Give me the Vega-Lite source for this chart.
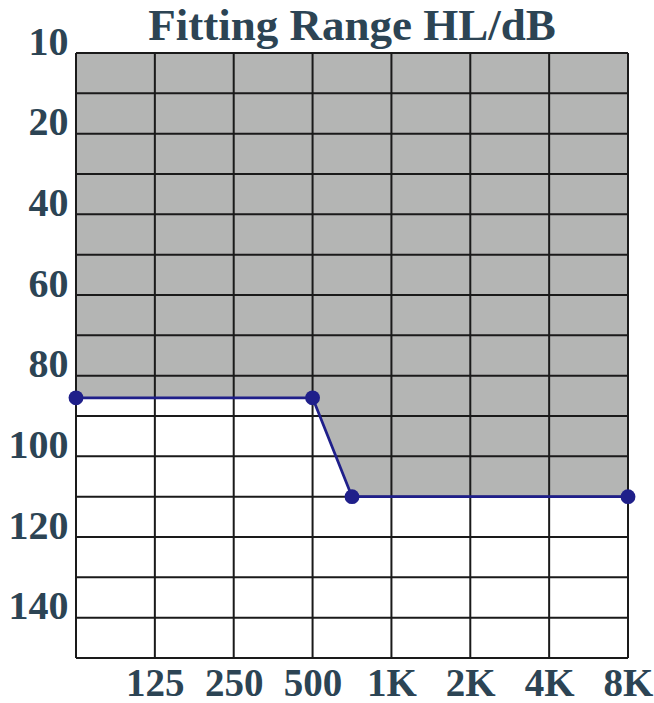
{
  "$schema": "https://vega.github.io/schema/vega-lite/v6.json",
  "width": 552,
  "height": 605,
  "autosize": {"type": "none"},
  "padding": {"left": 76, "top": 53, "right": 26, "bottom": 45},
  "background": "white",
  "config": {"view": {"stroke": null}, "font": "Liberation Serif"},
  "title": {"text": "Fitting Range HL/dB", "fontSize": 45, "font": "Liberation Serif", "fontWeight": "bold", "color": "#2c4454", "anchor": "middle", "offset": -27},
  "datasets": {
    "curve": [
      {"freq": 0, "hl": 85.5},
      {"freq": 3, "hl": 85.5},
      {"freq": 3.5, "hl": 110},
      {"freq": 7, "hl": 110}
    ],
    "hgrid": [
      {"hl": 0}, {"hl": 10}, {"hl": 20}, {"hl": 30}, {"hl": 40}, {"hl": 50}, {"hl": 60}, {"hl": 70},
      {"hl": 80}, {"hl": 90}, {"hl": 100}, {"hl": 110}, {"hl": 120}, {"hl": 130}, {"hl": 140}, {"hl": 150}
    ],
    "vgrid": [
      {"freq": 0}, {"freq": 1}, {"freq": 2}, {"freq": 3}, {"freq": 4}, {"freq": 5}, {"freq": 6}, {"freq": 7}
    ]
  },
  "layer": [
    {
      "data": {"name": "curve"},
      "mark": {"type": "area", "color": "#b4b5b4", "opacity": 1},
      "encoding": {
        "x": {
          "field": "freq", "type": "quantitative",
          "scale": {"domain": [0, 7], "nice": false, "zero": false},
          "axis": {
            "values": [1, 2, 3, 4, 5, 6, 7],
            "labelExpr": "['', '125', '250', '500', '1K', '2K', '4K', '8K'][datum.value]",
            "domain": false, "ticks": false, "grid": false, "title": null,
            "labelFont": "Liberation Serif", "labelFontSize": 39, "labelFontWeight": "bold",
            "labelColor": "#2c4454", "labelPadding": 6, "labelOverlap": false, "labelFlush": false, "labelBound": false
          }
        },
        "y": {
          "field": "hl", "type": "quantitative",
          "scale": {"domain": [0, 150], "reverse": true, "nice": false, "zero": false},
          "axis": {
            "values": [0, 20, 40, 60, 80, 100, 120, 140],
            "labelExpr": "datum.value == 0 ? '10' : datum.label",
            "domain": false, "ticks": false, "grid": false, "title": null,
            "labelFont": "Liberation Serif", "labelFontSize": 40, "labelFontWeight": "bold",
            "labelColor": "#2c4454", "labelPadding": 8, "labelOffset": -11, "labelOverlap": false, "labelFlush": false, "labelBound": false
          }
        },
        "y2": {"datum": 0}
      }
    },
    {
      "data": {"name": "hgrid"},
      "mark": {"type": "rule", "color": "#1a1a1a", "strokeWidth": 2},
      "encoding": {"y": {"field": "hl", "type": "quantitative"}}
    },
    {
      "data": {"name": "vgrid"},
      "mark": {"type": "rule", "color": "#1a1a1a", "strokeWidth": 2},
      "encoding": {"x": {"field": "freq", "type": "quantitative"}}
    },
    {
      "data": {"name": "curve"},
      "mark": {"type": "line", "color": "#1f1f8a", "strokeWidth": 2.8},
      "encoding": {
        "x": {"field": "freq", "type": "quantitative"},
        "y": {"field": "hl", "type": "quantitative"}
      }
    },
    {
      "data": {"name": "curve"},
      "mark": {"type": "circle", "color": "#1f1f8a", "size": 220, "opacity": 1},
      "encoding": {
        "x": {"field": "freq", "type": "quantitative"},
        "y": {"field": "hl", "type": "quantitative"}
      }
    }
  ]
}
